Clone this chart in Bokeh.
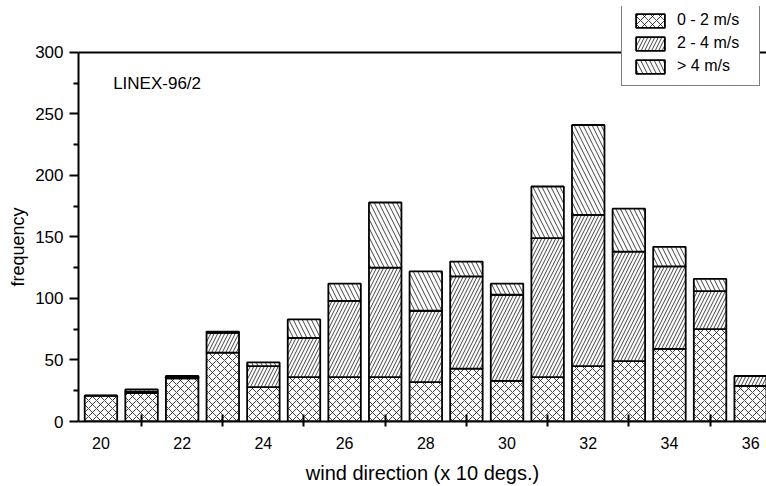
import numpy as np
from bokeh.plotting import figure
from bokeh.models import (ColumnDataSource, FixedTicker, Label, Legend,
                          LegendItem, Range1d, Span, Title)
from bokeh.core.properties import value
from bokeh.embed import file_html
from bokeh.resources import INLINE

# ---- data ----
directions = [20, 21, 22, 23, 24, 25, 26, 27, 28, 29, 30, 31, 32, 33, 34, 35, 36]
speed_0_2 = [21, 23, 35, 56, 28, 36, 36, 36, 32, 43, 33, 36, 45, 49, 59, 75, 29]
speed_2_4 = [0, 1, 1, 16, 17, 32, 62, 89, 58, 75, 70, 113, 123, 89, 67, 31, 8]
speed_gt4 = [0, 2, 1, 1, 3, 15, 14, 53, 32, 12, 9, 42, 73, 35, 16, 10, 0]
series_labels = ["0 - 2 m/s", "2 - 4 m/s", "> 4 m/s"]
x_major = [20, 22, 24, 26, 28, 30, 32, 34, 36]
x_minor = [21, 23, 25, 27, 29, 31, 33, 35]
y_major = [0, 50, 100, 150, 200, 250, 300]
y_minor = [25, 75, 125, 175, 225, 275]
y_top = 300
annotation = "LINEX-96/2"
x_title = "wind direction (x 10 degs.)"
y_title = "frequency"

t0 = np.array(speed_0_2, dtype=float)
t1 = t0 + np.array(speed_2_4, dtype=float)
t2 = t1 + np.array(speed_gt4, dtype=float)
src = ColumnDataSource(dict(x=directions, b0=np.zeros_like(t0), t0=t0,
                            b1=t0, t1=t1, b2=t1, t2=t2))

FONT = "Liberation Sans"

# frame extends above 300 so the legend (which overlaps the top line) fits in it
p = figure(width=766, height=486, output_backend="svg", toolbar_location=None,
           x_range=Range1d(19.447, 36.39), y_range=Range1d(0, 337.3),
           min_border_left=77, min_border_right=0, min_border_top=6,
           min_border_bottom=64)
p.xgrid.visible = False
p.ygrid.visible = False
p.outline_line_color = None
p.background_fill_color = "white"
p.border_fill_color = "white"

common = dict(x="x", width=0.8, fill_color="white", line_color="black",
              line_width=1.8, hatch_color="#111111", hatch_weight=0.8, source=src)
r0 = p.vbar(bottom="b0", top="t0", hatch_pattern=value("x"), hatch_scale=8, **common)
r1 = p.vbar(bottom="b1", top="t1", hatch_pattern=value("/"), hatch_scale=7, **common)
r2 = p.vbar(bottom="b2", top="t2", hatch_pattern=value("\\"), hatch_scale=9, **common)

# axes
xa = p.xaxis[0]
xa.ticker = FixedTicker(ticks=x_major, minor_ticks=x_minor)
xa.major_tick_in = 0
xa.major_tick_out = 0
xa.minor_tick_in = 7
xa.minor_tick_out = 5
xa.minor_tick_line_width = 2
xa.axis_line_width = 2
xa.major_label_text_font = FONT
xa.major_label_text_font_size = "16px"
xa.major_label_text_color = "black"
xa.major_label_standoff = 10
xa.axis_label = x_title
xa.axis_label_text_font = FONT
xa.axis_label_text_font_size = "20px"
xa.axis_label_text_color = "black"
xa.axis_label_text_font_style = "normal"
xa.axis_label_standoff = 10

ya = p.yaxis[0]
ya.bounds = (0, y_top)
ya.ticker = FixedTicker(ticks=y_major, minor_ticks=y_minor)
ya.major_tick_in = 0
ya.major_tick_out = 9
ya.major_tick_line_width = 2
ya.minor_tick_in = 0
ya.minor_tick_out = 5
ya.minor_tick_line_width = 2
ya.axis_line_width = 2
ya.major_label_text_font = FONT
ya.major_label_text_font_size = "17px"
ya.major_label_text_color = "black"
ya.major_label_standoff = 6

# y title as a side title, anchored at the axis bottom and shifted up so it is
# centred on the 0..300 axis
p.add_layout(Title(text=y_title, align="left", offset=135, standoff=10,
                   text_font=FONT, text_font_size="18px", text_font_style="normal",
                   text_color="black"), "left")

# top frame line at 300
p.add_layout(Span(location=y_top, dimension="width", line_color="black", line_width=2))

p.add_layout(Label(x=20.3, y=275, text=annotation, text_font=FONT,
                   text_font_size="17px", text_baseline="middle", text_color="black"))

legend = Legend(items=[LegendItem(label=series_labels[0], renderers=[r0]),
                       LegendItem(label=series_labels[1], renderers=[r1]),
                       LegendItem(label=series_labels[2], renderers=[r2])],
                location=(543, 335), padding=10, spacing=5, margin=0,
                glyph_width=36, glyph_height=17, label_standoff=9,
                label_width=72, label_text_font=FONT, label_text_font_size="16px",
                label_text_color="black",
                border_line_color="black", border_line_width=1.5,
                background_fill_color="white", background_fill_alpha=1.0)
p.add_layout(legend, "center")

open("out.html", "w").write(file_html(p, INLINE))
